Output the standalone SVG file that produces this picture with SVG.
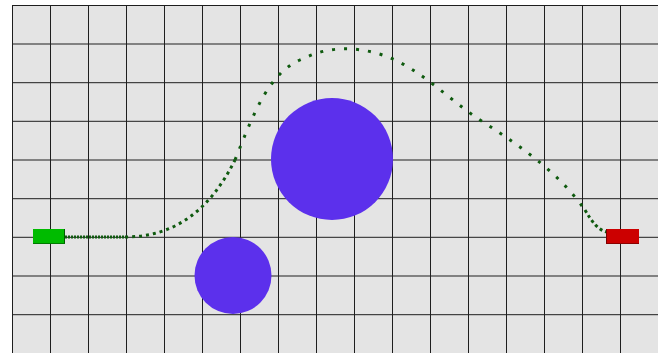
<svg xmlns="http://www.w3.org/2000/svg" width="671" height="353" viewBox="0 0 671 353">
<defs>
<style>
.grid line{stroke:#1e1e1e;stroke-width:1}
.obst{fill:#5c30ec}
.trail{fill:none;stroke:#0f5a0f;stroke-width:3}
</style>
</defs>
<rect x="0" y="0" width="671" height="353" fill="#ffffff"/>
<rect x="12" y="5" width="646" height="348" fill="#e4e4e4"/>
<g class="grid">
<line x1="12.5" y1="5" x2="12.5" y2="353"/>
<line x1="50.5" y1="5" x2="50.5" y2="353"/>
<line x1="88.5" y1="5" x2="88.5" y2="353"/>
<line x1="126.5" y1="5" x2="126.5" y2="353"/>
<line x1="164.5" y1="5" x2="164.5" y2="353"/>
<line x1="202.5" y1="5" x2="202.5" y2="353"/>
<line x1="240.5" y1="5" x2="240.5" y2="353"/>
<line x1="278.5" y1="5" x2="278.5" y2="353"/>
<line x1="316.5" y1="5" x2="316.5" y2="353"/>
<line x1="354.5" y1="5" x2="354.5" y2="353"/>
<line x1="392.5" y1="5" x2="392.5" y2="353"/>
<line x1="430.5" y1="5" x2="430.5" y2="353"/>
<line x1="468.5" y1="5" x2="468.5" y2="353"/>
<line x1="506.5" y1="5" x2="506.5" y2="353"/>
<line x1="544.5" y1="5" x2="544.5" y2="353"/>
<line x1="582.5" y1="5" x2="582.5" y2="353"/>
<line x1="620.5" y1="5" x2="620.5" y2="353"/>
<line x1="12" y1="5.5" x2="658" y2="5.5"/>
<line x1="12" y1="44" x2="658" y2="44"/>
<line x1="12" y1="82.7" x2="658" y2="82.7"/>
<line x1="12" y1="121.3" x2="658" y2="121.3"/>
<line x1="12" y1="160" x2="658" y2="160"/>
<line x1="12" y1="198.7" x2="658" y2="198.7"/>
<line x1="12" y1="237.3" x2="658" y2="237.3"/>
<line x1="12" y1="276" x2="658" y2="276"/>
<line x1="12" y1="314.7" x2="658" y2="314.7"/>
</g>
<g id="obstacle-large"><circle class="obst" cx="332" cy="159" r="61"/></g>
<g id="obstacle-small"><circle class="obst" cx="233" cy="275.5" r="38.5"/></g>
<g id="connectors">
<path class="trail" stroke-dasharray="2 1" d="M65,237 L125,237"/>
<path class="trail" stroke-dasharray="3 4" d="M125,237 C175,237 210,210 235,160"/>
<path class="trail" stroke-dasharray="3 9" d="M235,160 C255,110 270,70 305,58 C330,45 365,46 395,60 C425,74 450,100 480,120 C527,150 560,175 585,210"/>
<path class="trail" stroke-dasharray="3 3" d="M585,210 C592,222 598,230 607,232"/>
</g>
<g id="start">
<rect x="33" y="229" width="32" height="15" fill="#00bb00"/>
<line x1="64.5" y1="229" x2="64.5" y2="244" stroke="#005a00" stroke-width="1"/>
<line x1="33" y1="243.5" x2="65" y2="243.5" stroke="#007a00" stroke-width="1"/>
</g>
<g id="goal">
<rect x="606" y="229" width="33" height="15" fill="#cc0000"/>
<line x1="606.5" y1="229" x2="606.5" y2="244" stroke="#7a0000" stroke-width="1"/>
<line x1="606" y1="243.5" x2="639" y2="243.5" stroke="#8a0000" stroke-width="1"/>
</g>
</svg>
